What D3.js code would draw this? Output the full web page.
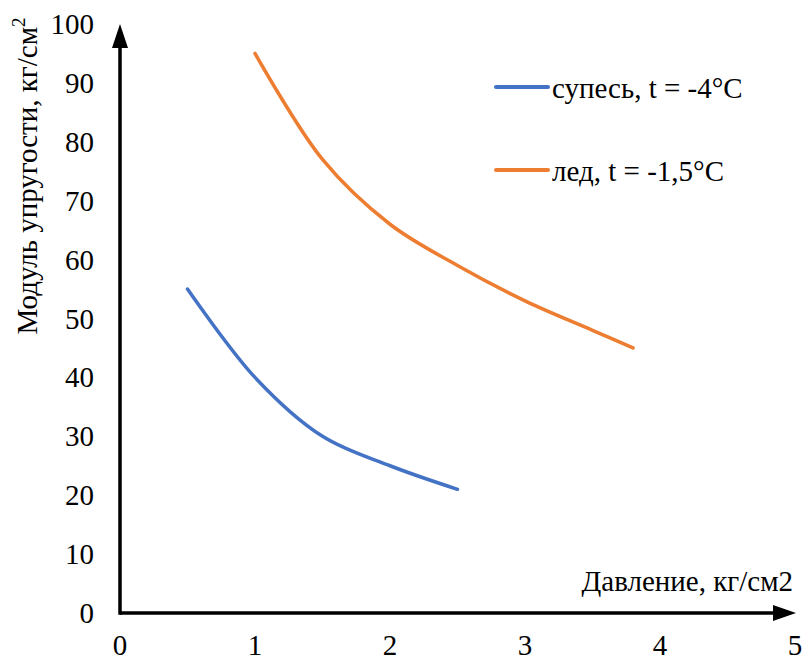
<!DOCTYPE html>
<html><head><meta charset="utf-8">
<script src="https://cdn.jsdelivr.net/npm/d3@7"></script>
<style>body{margin:0;background:#fff}svg{display:block}</style>
</head><body><svg id="c" width="808" height="662"></svg>
<script>
const xTicks = [0,1,2,3,4,5];
const yTicks = [0,10,20,30,40,50,60,70,80,90,100];
const sandX = [0.5,1,1.5,2,2.5];
const sandY = [55,40,30,25,21];
const iceX = [1,1.5,2,2.5,3,3.5,3.8];
const iceY = [95,77,66,59,53,48,45];
const seriesNames = ["супесь, t = -4°C","лед, t = -1,5°C"];
const colors = ["#4472C4","#ED7D31"];
const xTitle = "Давление, кг/см2";
const yTitle = "Модуль упругости, кг/см";

const cands = ["Liberation Serif","Times New Roman","Tinos","DejaVu Serif","Noto Serif","FreeSerif","Nimbus Roman","serif"];
const ctx = document.createElement("canvas").getContext("2d");
const sample = "Давление, кг/см2 0123456789 Mwil";
function w(f){ctx.font = "27px " + f; return ctx.measureText(sample).width;}
let chosen = "serif";
for (const f of cands){
  if (f === "serif"){chosen = f; break;}
  const a = w(`"${f}", monospace`), b = w("monospace"), c = w(`"${f}", sans-serif`), d = w("sans-serif");
  if (a !== b && c !== d){chosen = `"${f}"`; break;}
}
const FS = 29;

const svg = d3.select("#c").attr("font-family", chosen + ", serif");
const x = d3.scaleLinear().domain([0,5]).range([120,795]);
const y = d3.scaleLinear().domain([0,100]).range([613,24]);

svg.append("g").selectAll("text").data(xTicks).join("text")
  .attr("x",d=>x(d)).attr("y",655).attr("text-anchor","middle")
  .attr("font-size",FS).text(d=>d);
svg.append("g").selectAll("text").data(yTicks).join("text")
  .attr("x",94).attr("y",d=>y(d)+10).attr("text-anchor","end")
  .attr("font-size",FS).text(d=>d);

svg.append("line").attr("x1",x(0)).attr("x2",x(5)-20).attr("y1",y(0)).attr("y2",y(0))
  .attr("stroke","#000").attr("stroke-width",3.5);
svg.append("path").attr("d",`M${x(5)+1},${y(0)} L${x(5)-22},${y(0)-8} L${x(5)-22},${y(0)+8}Z`).attr("fill","#000");
svg.append("line").attr("x1",x(0)).attr("x2",x(0)).attr("y1",y(0)+1.75).attr("y2",y(100)+20)
  .attr("stroke","#000").attr("stroke-width",3.5);
svg.append("path").attr("d",`M${x(0)},${y(100)} L${x(0)-8},${y(100)+24} L${x(0)+8},${y(100)+24}Z`).attr("fill","#000");

const line = d3.line().x(d=>x(d[0])).y(d=>y(d[1])).curve(d3.curveCatmullRom.alpha(0.5));
const data = [d3.zip(sandX,sandY), d3.zip(iceX,iceY)];
svg.append("g").selectAll("path").data(data).join("path")
  .attr("d",line).attr("fill","none").attr("stroke",(d,i)=>colors[i])
  .attr("stroke-width",3.5).attr("stroke-linecap","round");

const lg = svg.append("g").selectAll("g").data(seriesNames).join("g")
  .attr("transform",(d,i)=>`translate(0,${[87,170][i]})`);
lg.append("line").attr("x1",496).attr("x2",548).attr("stroke",(d,i)=>colors[i])
  .attr("stroke-width",4).attr("stroke-linecap","round");
lg.append("text").attr("x",552).attr("y",10.5).attr("font-size",FS).text(d=>d);

svg.append("text").attr("x",793).attr("y",591).attr("text-anchor","end").attr("font-size",FS).text(xTitle);
const yt = svg.append("text").attr("transform","translate(37,176) rotate(-90)")
  .attr("text-anchor","middle").attr("font-size",FS);
yt.append("tspan").text(yTitle);
yt.append("tspan").attr("dy",-12).attr("font-size",19).text("2");
</script></body></html>
